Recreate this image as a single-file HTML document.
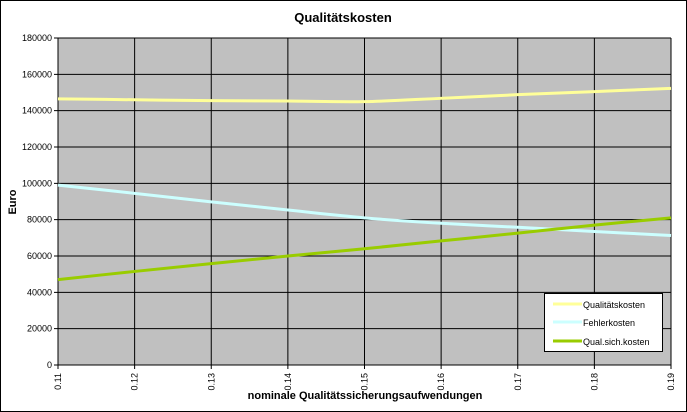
<!DOCTYPE html>
<html><head><meta charset="utf-8"><style>
html,body{margin:0;padding:0;background:#fff;}
svg{display:block;font-family:"Liberation Sans",Arial,sans-serif;}
</style></head><body>
<svg id="chart" width="687" height="412">
<rect x="0.5" y="0.5" width="686" height="411" fill="#fff" stroke="#000"/>
<text x="343" y="22" text-anchor="middle" font-size="13" font-weight="bold">Qualitätskosten</text>
<rect x="58" y="38" width="613" height="327" fill="#c0c0c0"/>
<g id="grid"></g>
<g id="series"></g>
<text transform="translate(16,202) rotate(-90)" text-anchor="middle" font-size="11" font-weight="bold">Euro</text>
<text x="365" y="399" text-anchor="middle" font-size="11" font-weight="bold">nominale Qualitätssicherungsaufwendungen</text>
<g>
<rect x="544.5" y="293.5" width="118" height="58" fill="#fff" stroke="#000"/>
<g><line x1="553" y1="304" x2="582" y2="304" stroke="#ffff99" stroke-width="3"/><text x="583" y="308" font-size="9">Qualitätskosten</text></g>
<g><line x1="553" y1="322" x2="582" y2="322" stroke="#ccffff" stroke-width="3"/><text x="583" y="326" font-size="9">Fehlerkosten</text></g>
<g><line x1="553" y1="341" x2="582" y2="341" stroke="#99cc00" stroke-width="3"/><text x="583" y="345" font-size="9">Qual.sich.kosten</text></g>
</g>
</svg>
<script>
const categories=["0.11","0.12","0.13","0.14","0.15","0.16","0.17","0.18","0.19"];
const qualitaetskosten=[146500,146000,145500,145300,145000,146800,148800,150500,152300];
const fehlerkosten=[99000,94500,89800,85300,81000,78000,75800,73500,71300];
const qualSichKosten=[47000,51500,55800,60000,64000,68300,72600,77000,81000];
const yTicks=[0,20000,40000,60000,80000,100000,120000,140000,160000,180000];
const NS="http://www.w3.org/2000/svg";
const L=58,R=671,T=38,B=365,YMAX=180000;
function xs(i){return L+(R-L)*i/(categories.length-1);}
function ys(v){return B-(B-T)*v/YMAX;}
function mk(tag,attrs,parent){const e=document.createElementNS(NS,tag);for(const k in attrs)e.setAttribute(k,attrs[k]);parent.appendChild(e);return e;}
const grid=document.getElementById('grid');
yTicks.forEach(v=>{
 const y=ys(v);
 const ln=mk('line',{x1:L-4,x2:R,y1:y,y2:y,stroke:'#000','stroke-width':1},grid);
 
 
 const t=mk('text',{x:L-6,y:y+3,'text-anchor':'end','font-size':9},grid);
 t.textContent=v;
 
 
});
categories.forEach((c,i)=>{
 const x=xs(i);
 const ln=mk('line',{x1:x,x2:x,y1:T,y2:B+4,stroke:'#000','stroke-width':1},grid);
 
 
 const t=mk('text',{transform:`translate(${x+3},${B+8}) rotate(-90)`,'text-anchor':'end','font-size':9},grid);
 t.textContent=c;
 
 
});
const ax=mk('line',{x1:L,x2:L,y1:T,y2:B,stroke:'#000'},grid);


function smooth(vals){
 const p=vals.map((v,i)=>[xs(i),ys(v)]);
 let d=`M${p[0][0]},${p[0][1]}`;
 for(let i=0;i<p.length-1;i++){
  const p0=p[i-1]||p[i],p1=p[i],p2=p[i+1],p3=p[i+2]||p2;
  const c1=[p1[0]+(p2[0]-p0[0])/6,p1[1]+(p2[1]-p0[1])/6];
  const c2=[p2[0]-(p3[0]-p1[0])/6,p2[1]-(p3[1]-p1[1])/6];
  d+=` C${c1[0]},${c1[1]} ${c2[0]},${c2[1]} ${p2[0]},${p2[1]}`;
 }
 return d;
}
const sg=document.getElementById('series');
[[qualitaetskosten,'#ffff99','line-qualitaetskosten'],[fehlerkosten,'#ccffff','line-fehlerkosten'],[qualSichKosten,'#99cc00','line-qual-sich-kosten']].forEach(s=>{
 const p=mk('path',{d:smooth(s[0]),fill:'none',stroke:s[1],'stroke-width':3},sg);
 
 
});
</script>
</body></html>
